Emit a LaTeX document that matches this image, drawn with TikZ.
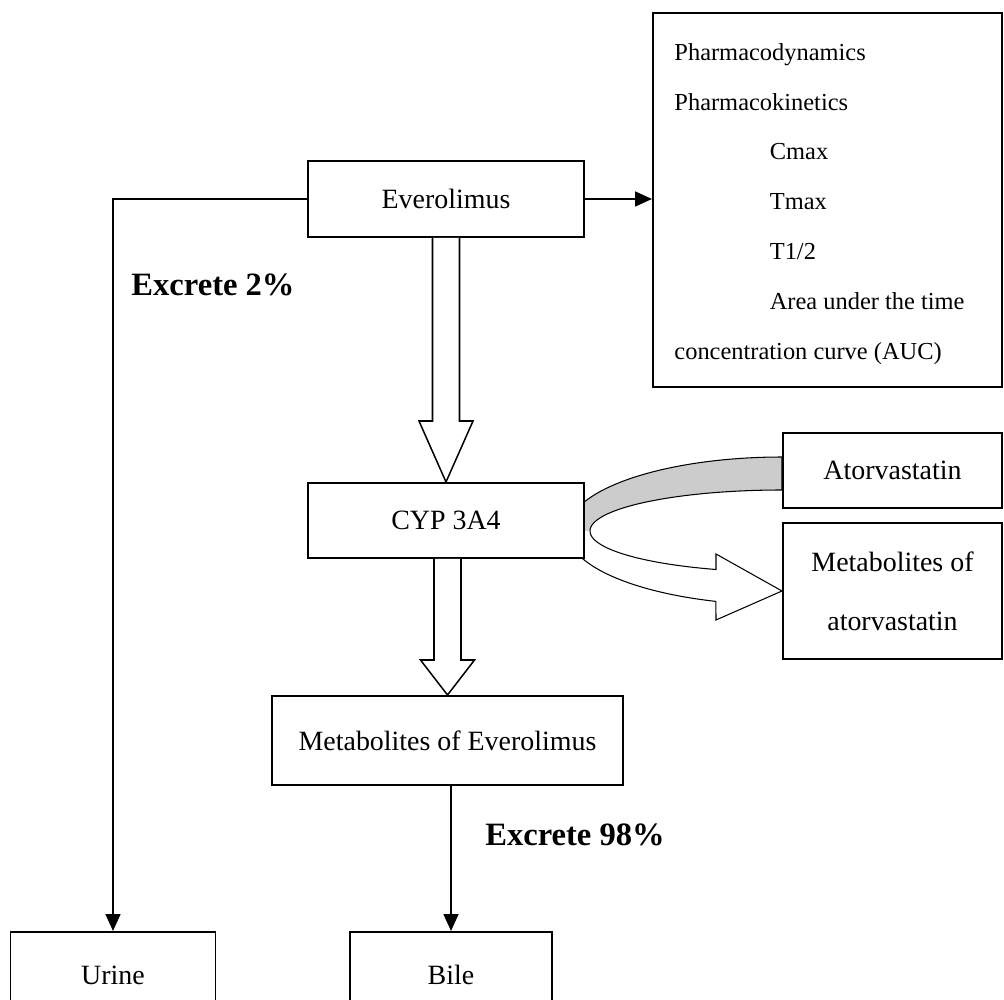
\documentclass[tikz,border=0pt]{standalone}
\usepackage{fontspec}
\setmainfont{Liberation Serif}
\usetikzlibrary{arrows.meta,calc}

\tikzset{
  box/.style 2 args={draw, line width=0.85pt, fill=white, inner sep=0pt, align=center,
    minimum width=#1*0.0151cm, minimum height=#2*0.0151cm},
  conn/.style={line width=0.85pt, -{Triangle[length=7.3pt,width=6.4pt]}},
  hollow/.style={draw, line width=0.65pt, fill=white},
  band/.style={draw, line width=0.45pt},
  lbl/.style={font=\fontsize{14}{16}\selectfont\bfseries},
}

\newcommand{\hollowarrow}[3]{%
  \draw[hollow] ($(#1.south -| #2.north)+(-13.5,0)$) -- ($(#2.north)+(-13.5,-#3)$)
    -- ($(#2.north)+(-27,-#3)$) -- (#2.north) -- ($(#2.north)+(27,-#3)$)
    -- ($(#2.north)+(13.5,-#3)$) -- ($(#1.south -| #2.north)+(13.5,0)$);}

\begin{document}
\begin{tikzpicture}[x=0.0151cm, y=-0.0151cm, font=\fontsize{12}{14.4}\selectfont]
    \useasboundingbox (0,0) rectangle (1004,1000);
    \clip (0,0) rectangle (1004,1000);

    \fill[gray!40] plot[domain=180:270, samples=40] ({782+215*cos(\x)},{531+74*sin(\x)})
        -- plot[domain=270:180, samples=40] ({782+192*cos(\x)},{531+41*sin(\x)}) -- cycle;
    \draw[band] plot[domain=180:270, samples=40] ({782+215*cos(\x)},{531+74*sin(\x)})
        -- plot[domain=270:180, samples=40] ({782+192*cos(\x)},{531+41*sin(\x)});
    \fill[white] plot[domain=180:107.9, samples=40] ({782+215*cos(\x)},{531+74*sin(\x)})
        -- (716,620) -- (782,591) -- (716,554)
        -- plot[domain=110.1:180, samples=40] ({782+192*cos(\x)},{531+41*sin(\x)}) -- cycle;
    \draw[band] plot[domain=180:107.9, samples=40] ({782+215*cos(\x)},{531+74*sin(\x)})
        -- (716,620) -- (782,591) -- (716,554)
        -- plot[domain=110.1:180, samples=40] ({782+192*cos(\x)},{531+41*sin(\x)});

    \node[box={276}{76}] (evero) at (446,199) {Everolimus};
    \node[box={349}{374}] (pk) at (827.5,200) {};
    \node[anchor=north west, inner sep=0pt, align=left, font=\fontsize{10.5}{21.4}\selectfont]
        (pklist) at (674,43) {Pharmacodynamics\\
        Pharmacokinetics\\
        \hspace*{41pt}Cmax\\
        \hspace*{41pt}Tmax\\
        \hspace*{41pt}T1/2\\
        \hspace*{41pt}Area under the time\\
        concentration curve (AUC)};
    \node[box={276}{75}] (cyp) at (446,520.5) {CYP 3A4};
    \node[box={219}{75}] (ator) at (892.5,470.5) {Atorvastatin};
    \node[box={219}{136}, font=\fontsize{12}{25.3}\selectfont] (metator) at (892.5,591)
        {Metabolites of\\atorvastatin};
    \node[box={351}{89}] (met) at (447.5,740.5) {Metabolites of Everolimus};
    \node[box={205}{86}] (urine) at (113,975) {Urine};
    \node[box={202}{86}] (bile) at (451,975) {Bile};

    \node[lbl] (ex2) at (213,285) {Excrete 2\%};
    \node[lbl] (ex98) at (575,835) {Excrete 98\%};

    \hollowarrow{evero}{cyp}{61}
    \hollowarrow{cyp}{met}{35}

    \draw[conn] (evero.east) -- (evero.east -| pk.west);
    \draw[conn] (evero.west) -| (urine.north);
    \draw[conn] (met.south -| bile.north) -- (bile.north);
\end{tikzpicture}
\end{document}
